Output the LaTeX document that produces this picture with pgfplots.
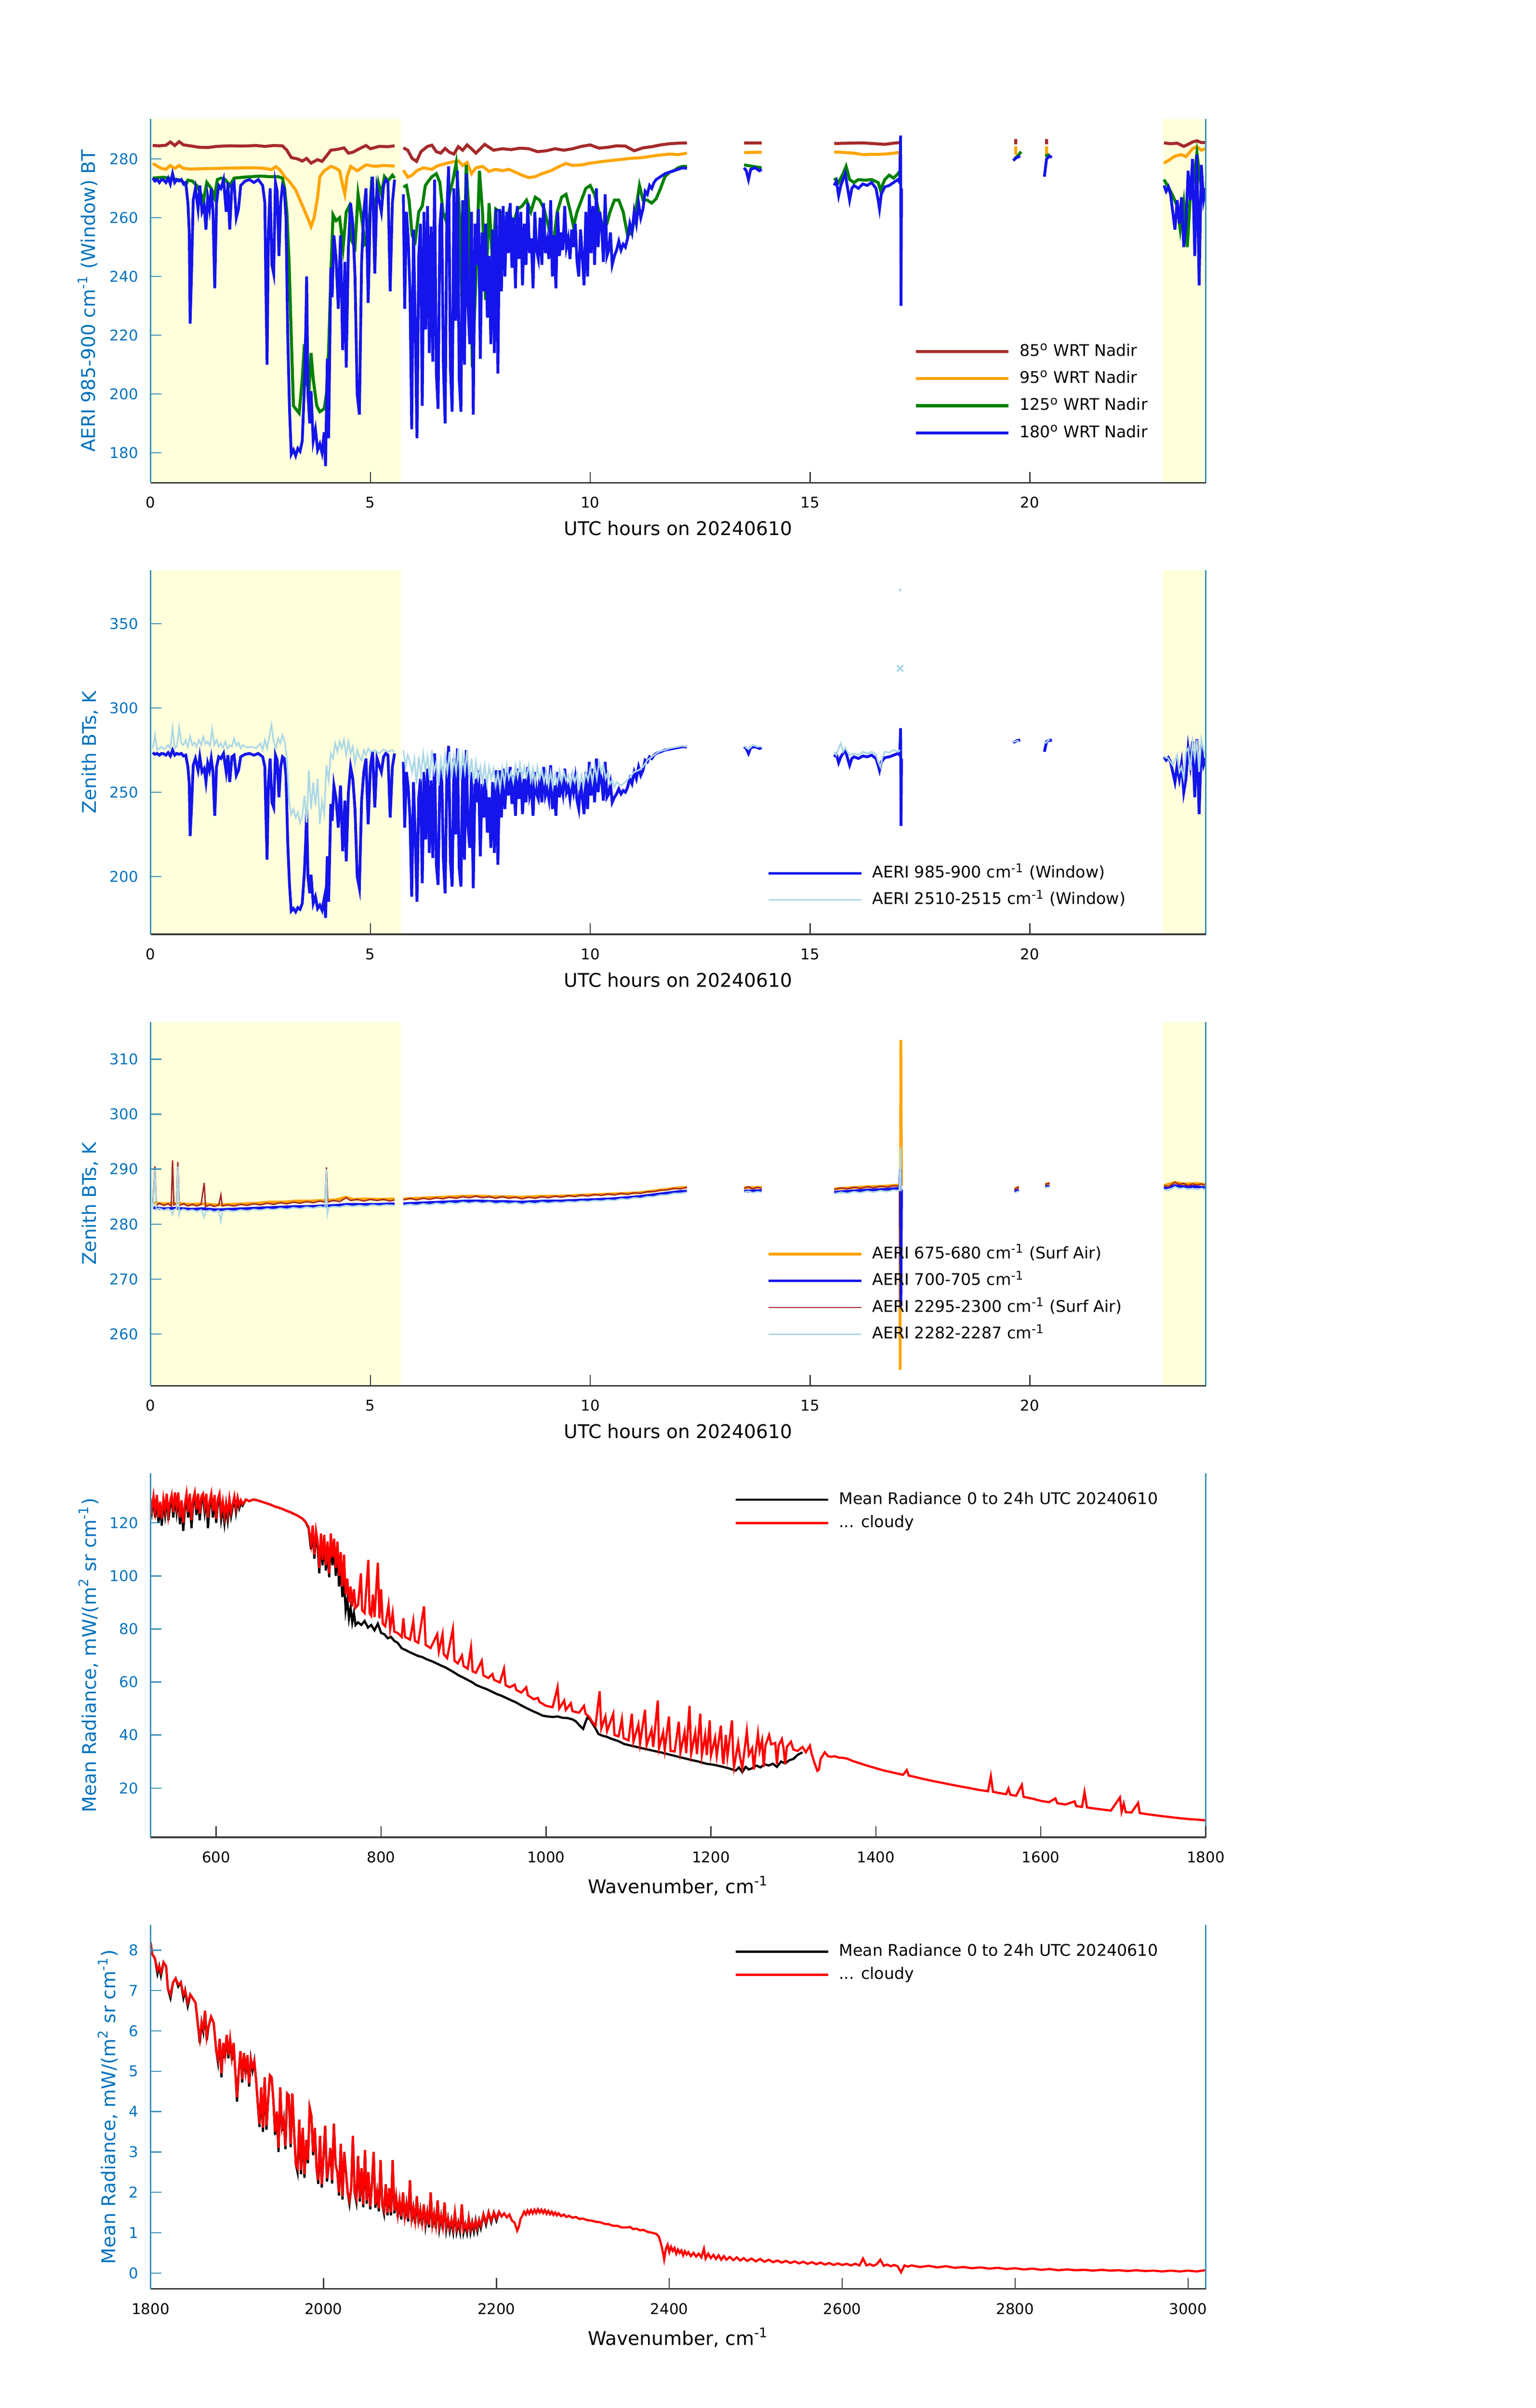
\documentclass[border=0pt]{standalone}
\usepackage{fontspec}
\setmainfont{DejaVu Sans}
\usepackage{pgfplots}
\usepackage{pgfplotstable}
\pgfplotsset{compat=1.18}
\definecolor{yellowbg}{RGB}{255,255,220}
\definecolor{tickblue}{RGB}{0,114,189}
\definecolor{spineblue}{RGB}{60,145,185}
\definecolor{spinegray}{RGB}{60,60,60}
\definecolor{cbrown}{RGB}{165,42,42}
\definecolor{corange}{RGB}{255,165,0}
\definecolor{cgreen}{RGB}{0,128,0}
\definecolor{cblue}{RGB}{20,20,235}
\definecolor{clight}{RGB}{173,216,230}
\newcommand{\ticfont}{\fontsize{7.4}{8.9}\selectfont}
\newcommand{\labfont}{\fontsize{9.4}{11.3}\selectfont}
\newcommand{\legfont}{\fontsize{8}{9.6}\selectfont}
\pgfplotsset{
 baseaxis/.style={
  scale only axis, width=525.6pt, height=181.4pt, anchor=south west,
  axis x line=bottom, axis y line=left, axis line style={-},
  x axis line style={draw=spinegray, line width=0.8pt},
  y axis line style={draw=spineblue, line width=0.6pt},
  tick align=inside, major tick length=5.4pt,
  xtick style={draw=spinegray, line width=0.6pt},
  ytick style={draw=spineblue, line width=0.6pt},
  /pgf/number format/assume math mode=true,
  /pgf/number format/1000 sep={},
  xticklabel style={font=\ticfont, text=black, anchor=base, yshift=-12.6pt, inner sep=0pt},
  yticklabel style={font=\ticfont, text=tickblue, anchor=east, xshift=-6pt, inner sep=0pt},
  xlabel style={font=\labfont, text=black, anchor=base},
  ylabel style={font=\labfont, text=tickblue, anchor=base},
  legend style={draw=none, fill=none, inner sep=0pt, outer sep=0pt, font=\legfont, anchor=north west,
    nodes={inner sep=0pt, text height=6pt, text depth=1.5pt}, column sep=4.8pt, row sep=6pt},
  legend cell align=left,
  legend image code/.code={\draw[##1] (0pt,0pt) -- (46.2pt,0pt);},
  unbounded coords=jump, clip mode=individual, axis on top,
 },
 timeaxis/.style={baseaxis, xmin=0, xmax=24, xtick={0,5,10,15,20},
  xlabel={UTC hours on 20240610},
  xlabel style={at={(axis description cs:0.5,-0.1444)}}},
}
\pgfplotstableread{
0.05 273.5
0.1 272.5
0.15 273.0
0.2 272.0
0.25 273.0
0.3 272.8
0.35 272.0
0.4 273.5
0.45 271.5
0.5 275.0
0.55 272.0
0.6 273.0
0.65 272.5
0.7 273.0
0.75 271.5
0.8 272.0
0.85 265.0
0.88 255.0
0.9 224.0
0.93 240.0
0.97 266.0
1.02 270.0
1.08 263.0
1.12 271.0
1.17 262.0
1.22 264.0
1.26 256.0
1.3 267.0
1.34 263.0
1.38 270.0
1.42 262.0
1.46 236.0
1.5 265.0
1.55 271.0
1.6 270.0
1.66 273.0
1.72 262.0
1.76 272.0
1.8 256.0
1.85 271.0
1.9 272.0
1.95 260.0
2.0 263.0
2.05 271.0
2.15 272.5
2.25 273.0
2.35 272.0
2.45 273.0
2.55 271.0
2.6 265.0
2.62 240.0
2.65 210.0
2.68 255.0
2.72 270.0
2.76 244.0
2.8 241.0
2.84 272.0
2.88 269.0
2.92 247.0
2.96 265.0
3.0 271.0
3.04 270.0
3.08 260.0
3.12 220.0
3.16 195.0
3.2 179.5
3.25 181.0
3.3 179.0
3.35 181.5
3.4 180.5
3.45 184.0
3.5 203.0
3.53 222.0
3.55 240.0
3.58 200.0
3.62 190.0
3.65 201.0
3.7 184.0
3.75 188.0
3.8 181.0
3.85 183.0
3.9 180.0
3.95 187.0
3.98 175.5
4.02 212.0
4.05 185.0
4.1 243.0
4.13 233.0
4.17 254.0
4.22 246.0
4.27 229.0
4.32 254.0
4.37 215.0
4.42 245.0
4.45 209.0
4.5 250.0
4.55 265.0
4.6 258.0
4.65 240.0
4.7 200.0
4.75 193.0
4.8 245.0
4.85 262.0
4.9 270.0
4.95 231.0
5.0 265.0
5.05 274.0
5.1 241.0
5.15 270.0
5.2 266.0
5.25 262.0
5.3 271.0
5.35 273.0
5.4 272.0
5.45 235.0
5.5 265.0
5.55 273.0
nan nan
5.75 268.0
5.78 229.0
5.82 262.0
5.86 253.0
5.9 235.0
5.94 188.0
5.98 256.0
6.02 224.0
6.06 185.0
6.1 247.0
6.14 258.0
6.18 196.0
6.22 262.0
6.26 222.0
6.3 264.0
6.34 214.0
6.38 257.0
6.42 211.0
6.46 273.0
6.5 207.0
6.54 195.0
6.58 257.0
6.62 265.0
6.66 210.0
6.7 190.0
6.74 262.0
6.78 277.5
6.82 209.0
6.86 194.0
6.9 270.0
6.94 225.0
6.98 276.0
7.02 205.0
7.06 194.0
7.1 266.0
7.14 210.0
7.18 275.0
7.22 230.0
7.26 217.0
7.3 262.0
7.34 193.0
7.38 258.0
7.42 244.0
7.46 263.0
7.5 212.0
7.54 255.0
7.58 235.0
7.62 258.0
7.66 226.0
7.7 247.0
7.74 217.0
7.78 256.0
7.82 214.0
7.86 263.0
7.9 207.0
7.94 263.0
7.98 235.0
8.02 264.0
8.06 240.0
8.1 262.0
8.14 248.0
8.18 265.0
8.22 243.0
8.26 260.0
8.3 236.0
8.34 264.0
8.38 246.0
8.42 262.0
8.46 237.0
8.5 258.0
8.54 244.0
8.58 265.0
8.62 248.0
8.66 253.0
8.7 236.0
8.74 262.0
8.78 249.0
8.82 246.0
8.86 260.0
8.9 244.0
8.94 265.0
8.98 248.0
9.02 252.0
9.06 246.0
9.1 266.0
9.14 240.0
9.18 254.0
9.22 236.0
9.26 262.0
9.3 247.0
9.34 255.0
9.38 249.0
9.42 264.0
9.46 250.0
9.5 253.0
9.54 246.0
9.58 256.0
9.62 250.0
9.66 258.0
9.7 245.0
9.74 240.0
9.78 256.0
9.82 247.0
9.86 237.0
9.9 262.0
9.94 240.0
9.98 268.0
10.02 248.0
10.06 264.0
10.1 244.0
10.14 270.0
10.18 250.0
10.22 262.0
10.26 257.0
10.3 245.0
10.34 268.0
10.38 247.0
10.42 249.0
10.46 255.0
10.5 244.0
10.55 247.0
10.6 249.0
10.65 252.0
10.7 249.0
10.75 251.0
10.8 250.0
10.85 253.0
10.9 258.0
10.95 255.0
11.0 262.0
11.05 258.0
11.1 265.0
11.15 260.0
11.2 263.0
11.25 269.0
11.3 268.0
11.35 271.0
11.4 270.0
11.45 272.0
11.5 273.0
11.6 274.0
11.7 275.0
11.8 275.5
11.9 276.0
12.0 276.5
12.1 277.0
12.2 276.8
nan nan
13.5 277.0
13.55 276.0
13.6 273.0
13.65 276.5
13.75 277.0
13.85 276.0
13.9 276.5
nan nan
15.55 271.0
15.6 272.5
15.65 267.5
15.7 271.0
15.75 273.0
15.8 275.0
15.85 270.5
15.9 266.0
15.95 270.0
16.0 271.0
16.1 270.0
16.2 271.5
16.3 271.0
16.4 272.0
16.5 270.0
16.55 266.0
16.58 263.0
16.62 268.0
16.7 270.5
16.8 271.0
16.9 272.0
17.0 273.0
17.04 272.0
17.06 288.0
17.07 230.0
17.08 270.0
nan nan
19.62 279.5
19.7 280.5
19.78 281.0
nan nan
20.33 274.0
20.38 280.0
20.45 281.0
20.5 280.5
nan nan
23.05 271.0
23.1 269.0
23.15 270.5
23.2 268.0
23.25 262.0
23.3 256.0
23.35 266.0
23.4 258.0
23.45 267.0
23.5 250.0
23.55 258.0
23.6 276.0
23.65 266.0
23.7 280.0
23.75 247.0
23.8 281.5
23.85 237.0
23.9 278.0
23.95 266.0
24.0 270.0
}\tblBlue
\begin{document}
\begin{tikzpicture}
\useasboundingbox (0,0) rectangle (765pt,1200pt);
% ---------------- Panel 1
\begin{axis}[timeaxis, at={(75pt,959.4pt)}, ymin=169.8, ymax=293.7, ytick={180,200,220,240,260,280},
  ylabel={AERI 985-900 cm\textsuperscript{-1} (Window) BT},
  ylabel style={at={(axis description cs:-0.0525,0.5)}},
  legend style={at={(axis description cs:0.7237,0.3812)}}]
\addplot[fill=yellowbg, draw=none, forget plot] coordinates {(0,169.8) (5.69,169.8) (5.69,293.7) (0,293.7)} -- cycle;
\addplot[fill=yellowbg, draw=none, forget plot] coordinates {(23.03,169.8) (24,169.8) (24,293.7) (23.03,293.7)} -- cycle;
\addplot[cbrown, line width=1.5pt] table {
0.05 284.6
0.2 284.5
0.35 284.7
0.45 285.8
0.55 284.6
0.65 285.9
0.75 284.8
0.9 284.5
1.1 284.0
1.3 283.9
1.5 284.3
1.8 284.5
2.1 284.4
2.4 284.6
2.6 284.3
2.8 284.6
3.0 284.5
3.1 283.0
3.2 280.5
3.35 280.0
3.45 279.3
3.55 280.2
3.65 278.6
3.8 279.8
3.9 279.2
4.0 281.0
4.1 283.0
4.25 283.3
4.4 283.8
4.5 282.0
4.6 282.3
4.75 283.5
4.9 284.6
5.0 283.5
5.2 284.3
5.4 284.2
5.55 284.5
nan nan
5.75 283.8
5.85 283.0
5.95 280.2
6.05 279.2
6.15 282.5
6.3 284.3
6.4 284.7
6.5 282.5
6.6 282.0
6.7 283.6
6.8 282.3
6.9 281.7
7.0 284.2
7.1 283.0
7.2 284.8
7.3 283.5
7.4 282.0
7.6 285.0
7.7 284.0
7.8 283.0
8.0 283.5
8.2 283.2
8.4 283.7
8.6 283.5
8.8 282.5
9.0 282.8
9.2 283.5
9.4 283.0
9.6 283.5
9.8 284.3
10.0 284.8
10.2 283.7
10.4 284.0
10.6 284.5
10.8 284.4
11.0 282.8
11.2 283.8
11.4 284.2
11.6 284.8
11.8 285.2
12.0 285.4
12.2 285.5
nan nan
13.5 285.5
13.9 285.5
nan nan
15.55 285.3
15.9 285.4
16.2 285.5
16.5 285.2
16.7 285.0
16.9 285.4
17.05 285.6
nan nan
19.68 285.0
19.68 286.8
nan nan
20.38 285.0
20.38 286.8
nan nan
23.05 285.5
23.2 285.2
23.35 285.4
23.5 284.3
23.6 285.0
23.7 285.8
23.8 286.2
23.9 285.6
24.0 285.6
};
\addlegendentry{85\textsuperscript{o} WRT Nadir}
\addplot[corange, line width=1.5pt] table {
0.05 278.5
0.15 277.6
0.25 276.8
0.35 276.5
0.45 277.8
0.55 276.8
0.65 277.8
0.75 276.8
0.9 276.6
1.2 276.7
1.5 276.8
1.8 276.9
2.1 277.0
2.4 277.0
2.6 276.8
2.75 276.4
2.85 277.4
2.95 276.2
3.05 274.0
3.15 272.5
3.3 269.5
3.4 266.0
3.5 262.5
3.6 259.0
3.65 257.0
3.72 260.0
3.8 267.0
3.85 274.0
3.95 276.0
4.1 277.5
4.2 277.0
4.3 276.0
4.37 271.0
4.42 268.0
4.47 274.0
4.55 277.5
4.7 276.0
4.8 277.0
4.9 278.0
5.1 277.5
5.3 277.8
5.55 277.6
nan nan
5.75 276.2
5.85 273.8
5.95 274.5
6.05 276.0
6.2 277.0
6.4 276.5
6.5 277.5
6.6 278.0
6.8 278.8
7.0 279.4
7.1 277.8
7.2 278.8
7.3 275.0
7.4 277.0
7.55 277.5
7.7 275.8
7.85 276.5
8.0 276.0
8.15 276.5
8.3 275.5
8.45 274.5
8.6 273.7
8.75 274.0
8.9 275.0
9.1 276.0
9.3 277.5
9.45 278.5
9.6 277.8
9.8 278.0
10.0 278.6
10.3 279.2
10.6 279.7
10.9 280.2
11.2 280.5
11.5 281.2
11.8 281.7
12.0 281.5
12.2 282.0
nan nan
13.5 282.2
13.9 282.3
nan nan
15.55 282.4
15.8 282.2
16.0 282.0
16.2 281.5
16.4 281.6
16.6 281.6
16.8 281.8
17.0 282.2
17.04 282.3
17.05 276.0
nan nan
19.68 281.5
19.68 284.3
nan nan
20.38 281.5
20.38 284.3
nan nan
23.05 278.6
23.15 279.5
23.3 281.0
23.45 281.5
23.55 280.8
23.7 283.5
23.8 284.2
23.9 283.0
24.0 283.5
};
\addlegendentry{95\textsuperscript{o} WRT Nadir}
\addplot[cgreen, line width=1.5pt] table {
0.05 273.5
0.3 273.8
0.5 273.2
0.7 272.8
0.8 271.0
0.85 272.8
0.95 272.5
1.05 271.0
1.15 268.0
1.2 265.5
1.28 272.0
1.38 270.0
1.45 267.0
1.52 273.0
1.6 273.5
1.7 273.0
1.8 271.0
1.9 273.5
2.1 273.8
2.3 274.0
2.5 274.2
2.7 274.0
2.9 274.0
3.0 273.5
3.05 270.0
3.1 262.0
3.15 245.0
3.2 220.0
3.25 196.0
3.3 195.0
3.38 193.5
3.45 205.0
3.5 217.0
3.55 205.0
3.6 200.0
3.65 214.0
3.7 205.0
3.78 196.0
3.85 194.0
3.95 195.0
4.0 200.0
4.05 215.0
4.1 240.0
4.15 261.0
4.22 259.0
4.3 260.0
4.38 250.0
4.45 262.0
4.52 264.0
4.58 252.0
4.65 250.0
4.72 268.0
4.8 260.0
4.88 251.0
4.95 252.0
5.02 270.0
5.1 263.0
5.18 272.0
5.25 268.0
5.32 274.0
5.4 272.5
5.5 274.5
5.55 273.5
nan nan
5.75 270.5
5.82 271.0
5.88 266.0
5.95 254.0
6.02 252.0
6.1 262.0
6.18 264.0
6.25 271.0
6.32 272.5
6.4 274.0
6.5 275.0
6.58 272.0
6.65 262.0
6.72 259.0
6.8 268.0
6.88 273.0
6.95 278.5
7.02 264.0
7.1 222.0
7.18 278.0
7.25 259.0
7.32 209.0
7.4 239.0
7.48 276.0
7.55 262.0
7.62 232.0
7.7 265.0
7.78 244.0
7.85 263.0
7.95 262.0
8.05 255.0
8.15 262.0
8.25 258.0
8.35 263.0
8.45 264.0
8.55 266.0
8.65 262.0
8.75 267.0
8.85 266.0
8.95 263.0
9.05 257.0
9.15 250.0
9.25 262.0
9.35 267.0
9.45 268.0
9.55 262.0
9.62 257.0
9.7 262.0
9.8 266.0
9.9 270.0
10.0 271.0
10.1 268.0
10.2 262.0
10.3 256.0
10.38 258.0
10.45 262.0
10.55 266.0
10.65 266.0
10.75 262.0
10.85 254.0
10.95 255.0
11.05 264.0
11.12 271.0
11.2 266.0
11.3 266.0
11.4 265.0
11.5 266.5
11.6 270.0
11.7 274.0
11.8 275.5
11.9 276.0
12.0 277.0
12.1 277.5
12.2 277.5
nan nan
13.5 278.0
13.7 277.5
13.9 277.0
nan nan
15.55 273.5
15.65 272.0
15.75 275.0
15.82 277.5
15.9 273.0
16.0 272.0
16.1 273.0
16.25 272.8
16.4 273.0
16.55 272.0
16.6 269.5
16.7 273.0
16.8 274.5
16.9 273.5
17.0 275.0
17.05 276.0
nan nan
19.65 280.0
19.75 281.5
19.8 282.5
nan nan
20.35 281.0
20.45 281.5
nan nan
23.05 273.0
23.15 270.5
23.25 267.5
23.35 264.0
23.42 256.0
23.5 265.0
23.58 250.0
23.65 268.0
23.72 272.0
23.8 282.0
23.85 276.0
23.92 268.0
24.0 270.0
};
\addlegendentry{125\textsuperscript{o} WRT Nadir}
\addplot[cblue, line width=1.4pt] table {\tblBlue};
\addlegendentry{180\textsuperscript{o} WRT Nadir}
\draw[spineblue, line width=0.6pt] (rel axis cs:1,0) -- (rel axis cs:1,1);
\end{axis}
% ---------------- Panel 2
\begin{axis}[timeaxis, at={(75pt,734.4pt)}, ymin=165.7, ymax=381.7, ytick={200,250,300,350},
  ylabel={Zenith BTs, K},
  ylabel style={at={(axis description cs:-0.0518,0.5)}},
  legend style={at={(axis description cs:0.5843,0.1881)}, row sep=5.7pt}]
\addplot[fill=yellowbg, draw=none, forget plot] coordinates {(0,165.7) (5.69,165.7) (5.69,381.7) (0,381.7)} -- cycle;
\addplot[fill=yellowbg, draw=none, forget plot] coordinates {(23.03,165.7) (24,165.7) (24,381.7) (23.03,381.7)} -- cycle;
\addplot[cblue, line width=1.4pt] table {\tblBlue};
\addlegendentry{AERI 985-900 cm\textsuperscript{-1} (Window)}
\addplot[clight, line width=0.8pt] table {
0.05 276
0.1 284
0.15 275
0.2 276
0.25 277
0.3 275.5
0.35 276.5
0.4 278
0.45 276.0
0.5 288.0
0.55 276.0
0.6 277.5
0.65 288.5
0.7 279.0
0.75 278.0
0.8 281.0
0.85 277.0
0.9 283.0
0.95 278.0
1.0 279.5
1.05 277.0
1.1 281.0
1.15 278.0
1.2 283.0
1.25 278.5
1.3 280.0
1.35 277.5
1.4 287.5
1.45 278.0
1.5 281.0
1.55 277.0
1.6 279.0
1.65 276.5
1.7 280.0
1.75 276.0
1.8 278.0
1.85 277.0
1.9 282.0
1.95 277.5
2.0 279.5
2.05 276.0
2.1 278.0
2.2 276.5
2.3 277.0
2.4 276.0
2.5 279.0
2.55 275.0
2.6 281.0
2.65 276.0
2.7 283.0
2.75 290.0
2.8 280.0
2.85 276.0
2.9 282.0
2.95 279.0
3.0 284.0
3.05 280.0
3.1 270.0
3.15 245.0
3.2 237.0
3.25 240.0
3.3 235.0
3.35 238.0
3.4 232.0
3.45 236.0
3.5 248.0
3.55 232.0
3.6 263.0
3.65 240.0
3.7 256.0
3.75 242.0
3.8 258.0
3.85 231.0
3.9 245.0
3.95 237.0
4.0 266.0
4.05 257.0
4.1 273.0
4.15 270.0
4.2 279.0
4.25 274.0
4.3 280.0
4.35 276.0
4.4 281.0
4.45 272.0
4.5 280.0
4.55 273.0
4.6 277.0
4.65 267.0
4.7 275.0
4.75 271.0
4.8 269.0
4.85 275.0
4.9 272.0
4.95 276.0
5.0 274.0
5.1 275.0
5.2 273.0
5.3 275.5
5.4 274.0
5.5 275.0
5.55 274.0
nan nan
5.75 275.0
5.8 265.0
5.85 272.0
5.9 268.0
5.95 262.0
6.0 270.0
6.05 255.0
6.1 271.0
6.15 260.0
6.2 273.0
6.25 263.0
6.3 271.0
6.35 258.0
6.4 275.0
6.45 262.0
6.5 268.0
6.55 254.0
6.6 269.0
6.65 260.0
6.7 272.0
6.75 262.0
6.8 274.0
6.85 258.0
6.9 271.0
6.95 262.0
7.0 276.0
7.05 257.0
7.1 272.0
7.15 262.0
7.2 275.0
7.25 258.0
7.3 270.0
7.35 255.0
7.4 268.0
7.45 258.0
7.5 265.0
7.55 256.0
7.6 266.0
7.65 255.0
7.7 265.0
7.75 258.0
7.8 264.0
7.85 254.0
7.9 262.0
7.95 252.0
8.0 264.0
8.05 255.0
8.1 266.0
8.15 258.0
8.2 262.0
8.25 256.0
8.3 266.0
8.35 259.0
8.4 267.0
8.45 258.0
8.5 265.0
8.55 259.0
8.6 266.0
8.65 257.0
8.7 264.0
8.75 255.0
8.8 265.0
8.85 258.0
8.9 263.0
8.95 256.0
9.0 263.0
9.05 254.0
9.1 262.0
9.15 253.0
9.2 261.0
9.25 255.0
9.3 263.0
9.35 256.0
9.4 262.0
9.45 257.0
9.5 260.0
9.55 254.0
9.6 262.0
9.65 256.0
9.7 261.0
9.75 253.0
9.8 260.0
9.85 254.0
9.9 262.0
9.95 257.0
10.0 264.0
10.05 256.0
10.1 266.0
10.15 258.0
10.2 268.0
10.25 262.0
10.3 266.0
10.35 258.0
10.4 262.0
10.45 255.0
10.5 257.0
10.55 253.0
10.6 256.0
10.7 254.0
10.8 256.0
10.9 259.0
11.0 262.0
11.1 263.0
11.2 265.0
11.3 269.0
11.4 271.0
11.5 273.0
11.6 274.5
11.7 275.0
11.8 276.0
11.9 276.5
12.0 277.0
12.1 277.5
12.2 277.0
nan nan
13.5 277.5
13.6 275.5
13.7 278.0
13.8 277.0
13.9 277.0
nan nan
15.55 274.0
15.6 272.0
15.65 276.0
15.7 279.0
15.75 274.0
15.8 276.5
15.85 274.0
15.9 272.0
16.0 273.0
16.1 272.0
16.2 274.0
16.3 273.0
16.4 274.0
16.5 272.5
16.55 268.0
16.6 265.0
16.65 271.0
16.7 274.0
16.8 273.5
16.9 275.0
17.0 274.0
17.05 275.0
nan nan
19.62 280.0
19.75 280.5
nan nan
20.35 279.0
20.45 281.5
nan nan
23.05 271.0
23.15 270.0
23.25 266.0
23.35 272.0
23.4 262.0
23.45 265.0
23.5 258.0
23.55 274.0
23.6 276.0
23.65 263.0
23.7 280.0
23.75 270.0
23.8 281.0
23.85 262.0
23.9 281.5
23.95 275.0
24.0 272.0
};
\addlegendentry{AERI 2510-2515 cm\textsuperscript{-1} (Window)}
\addplot[clight, only marks, mark=x, mark size=2.2pt, line width=0.9pt, forget plot] coordinates {(17.05,323.5)};
\addplot[clight, only marks, mark=*, mark size=0.5pt, forget plot] coordinates {(17.05,370)};
\draw[spineblue, line width=0.6pt] (rel axis cs:1,0) -- (rel axis cs:1,1);
\end{axis}
% ---------------- Panel 3
\begin{axis}[timeaxis, at={(75pt,509.4pt)}, ymin=250.6, ymax=316.8, ytick={260,270,280,290,300,310},
  ylabel={Zenith BTs, K},
  ylabel style={at={(axis description cs:-0.0518,0.5)}},
  legend style={at={(axis description cs:0.5843,0.3823)}, row sep=5.8pt}]
\addplot[fill=yellowbg, draw=none, forget plot] coordinates {(0,250.6) (5.69,250.6) (5.69,316.8) (0,316.8)} -- cycle;
\addplot[fill=yellowbg, draw=none, forget plot] coordinates {(23.03,250.6) (24,250.6) (24,316.8) (23.03,316.8)} -- cycle;
\addplot[corange, line width=1.4pt] table {
0.05 283.9
0.3 283.7
0.6 283.8
0.9 283.6
1.2 283.7
1.5 283.5
1.8 283.6
2.1 283.7
2.4 283.8
2.7 284.0
3.0 284.0
3.3 284.2
3.6 284.2
3.9 284.3
4.2 284.4
4.45 284.9
4.6 284.5
4.9 284.6
5.2 284.5
5.55 284.6
nan nan
5.75 284.6
6.0 284.7
6.3 284.8
6.6 284.9
6.9 285.0
7.2 285.1
7.5 285.1
7.8 285.0
8.1 285.0
8.4 284.9
8.7 285.0
9.0 285.1
9.3 285.1
9.6 285.2
9.9 285.3
10.2 285.4
10.5 285.5
10.8 285.6
11.1 285.7
11.4 286.0
11.7 286.3
12.0 286.6
12.2 286.7
nan nan
13.5 286.6
13.9 286.7
nan nan
15.55 286.4
15.9 286.6
16.3 286.8
16.7 286.9
17.0 287.1
17.04 287.0
17.05 253.5
17.065 313.5
17.08 287.0
nan nan
19.65 286.4
19.75 286.7
nan nan
20.35 287.3
20.45 287.4
nan nan
23.05 287.0
23.3 287.6
23.5 287.3
23.8 287.4
24.0 287.2
};
\addlegendentry{AERI 675-680 cm\textsuperscript{-1} (Surf Air)}
\addplot[cblue, line width=1.4pt] table {
0.05 283.0
0.3 282.8
0.6 282.9
0.9 282.7
1.2 282.8
1.5 282.6
1.8 282.7
2.1 282.8
2.4 282.9
2.7 283.0
3.0 283.1
3.3 283.2
3.6 283.2
3.9 283.3
4.2 283.4
4.5 283.6
4.9 283.6
5.2 283.6
5.55 283.7
nan nan
5.75 283.7
6.0 283.8
6.3 283.9
6.6 284.0
6.9 284.1
7.2 284.2
7.5 284.2
7.8 284.1
8.1 284.1
8.4 284.0
8.7 284.1
9.0 284.2
9.3 284.2
9.6 284.3
9.9 284.4
10.2 284.5
10.5 284.6
10.8 284.8
11.1 285.0
11.4 285.3
11.7 285.6
12.0 285.9
12.2 286.0
nan nan
13.5 286.0
13.9 286.1
nan nan
15.55 285.8
15.9 286.0
16.3 286.2
16.7 286.3
17.0 286.5
17.04 286.4
17.055 290.0
17.065 265.0
17.08 286.3
nan nan
19.65 285.9
19.75 286.2
nan nan
20.35 286.8
20.45 286.9
nan nan
23.05 286.5
23.3 287.0
23.5 286.8
23.8 286.8
24.0 286.6
};
\addlegendentry{AERI 700-705 cm\textsuperscript{-1}}
\addplot[cbrown, line width=0.7pt] table {
0.05 283.6
0.1 290.5
0.13 283.4
0.2 283.8
0.3 283.4
0.4 283.7
0.47 283.3
0.5 291.6
0.53 283.5
0.59 283.7
0.62 291.3
0.65 283.4
0.75 283.7
0.85 283.3
0.95 283.6
1.05 283.3
1.15 283.6
1.22 287.5
1.25 283.2
1.35 283.5
1.45 283.2
1.55 283.5
1.6 285.3
1.63 283.3
1.75 283.5
1.9 283.3
2.05 283.6
2.2 283.4
2.35 283.7
2.5 283.5
2.65 283.8
2.8 283.6
2.95 283.9
3.1 283.7
3.25 284.0
3.4 283.8
3.55 284.1
3.7 283.9
3.85 284.2
3.97 284.0
4.0 290.3
4.03 284.0
4.15 284.3
4.3 284.1
4.45 284.8
4.55 284.3
4.7 284.5
4.85 284.2
5.0 284.5
5.15 284.3
5.3 284.5
5.45 284.2
5.55 284.4
nan nan
5.75 284.4
5.9 284.7
6.05 284.4
6.2 284.7
6.35 284.5
6.5 284.8
6.65 284.6
6.8 284.9
6.95 284.7
7.1 285.0
7.25 284.8
7.4 285.1
7.55 284.8
7.7 285.0
7.85 284.7
8.0 285.0
8.15 284.7
8.3 284.9
8.45 284.6
8.6 284.9
8.75 284.7
8.9 285.0
9.05 284.8
9.2 285.1
9.35 284.9
9.5 285.2
9.65 285.0
9.8 285.3
9.95 285.1
10.1 285.4
10.25 285.2
10.4 285.5
10.55 285.3
10.7 285.6
10.85 285.4
11.0 285.7
11.15 285.6
11.3 285.9
11.45 285.9
11.6 286.2
11.75 286.2
11.9 286.5
12.05 286.4
12.2 286.7
nan nan
13.5 286.5
13.6 286.8
13.7 286.4
13.8 286.7
13.9 286.5
nan nan
15.55 286.3
15.7 286.6
15.85 286.4
16.0 286.7
16.15 286.5
16.3 286.8
16.45 286.6
16.6 286.9
16.75 286.7
16.9 287.0
17.03 286.9
nan nan
19.65 286.3
19.75 286.8
nan nan
20.35 287.2
20.45 287.5
nan nan
23.05 287.0
23.15 286.8
23.3 287.6
23.4 287.2
23.5 287.4
23.6 287.0
23.7 287.3
23.8 287.1
23.9 287.3
24.0 287.0
};
\addlegendentry{AERI 2295-2300 cm\textsuperscript{-1} (Surf Air)}
\addplot[clight, line width=0.7pt] table {
0.05 282.8
0.1 290.0
0.13 282.6
0.2 282.9
0.3 282.5
0.4 282.8
0.47 282.4
0.5 281.7
0.53 282.6
0.59 282.8
0.62 290.5
0.65 281.7
0.68 282.5
0.75 282.7
0.85 282.4
0.95 282.6
1.05 282.3
1.15 282.6
1.22 281.2
1.25 282.3
1.35 282.5
1.45 282.2
1.55 282.5
1.6 280.5
1.63 282.3
1.75 282.5
1.9 282.3
2.05 282.6
2.2 282.4
2.35 282.7
2.5 282.5
2.65 282.8
2.8 282.6
2.95 282.9
3.1 282.7
3.25 283.0
3.4 282.8
3.55 283.1
3.7 282.9
3.85 283.2
3.97 283.0
4.0 290.0
4.02 281.8
4.05 283.0
4.15 283.2
4.3 283.1
4.45 283.4
4.6 283.2
4.75 283.4
4.9 283.2
5.05 283.5
5.2 283.3
5.35 283.5
5.55 283.4
nan nan
5.75 283.4
5.9 283.6
6.05 283.4
6.2 283.7
6.35 283.5
6.5 283.8
6.65 283.6
6.8 283.9
6.95 283.7
7.1 284.0
7.25 283.8
7.4 284.0
7.55 283.8
7.7 284.0
7.85 283.7
8.0 283.9
8.15 283.7
8.3 283.9
8.45 283.6
8.6 283.9
8.75 283.7
8.9 284.0
9.05 283.8
9.2 284.0
9.35 283.9
9.5 284.1
9.65 284.0
9.8 284.2
9.95 284.1
10.1 284.3
10.25 284.2
10.4 284.4
10.55 284.3
10.7 284.6
10.85 284.5
11.0 284.8
11.15 284.7
11.3 285.0
11.45 285.0
11.6 285.3
11.75 285.3
11.9 285.6
12.05 285.6
12.2 285.8
nan nan
13.5 285.8
13.6 286.0
13.7 285.7
13.8 285.9
13.9 285.8
nan nan
15.55 285.5
15.7 285.8
15.85 285.6
16.0 285.9
16.15 285.7
16.3 286.0
16.45 285.8
16.6 286.1
16.75 285.9
16.9 286.2
17.03 286.1
17.06 294.0
17.07 286.0
nan nan
19.65 285.7
19.75 286.0
nan nan
20.35 286.6
20.45 286.8
nan nan
23.05 286.3
23.15 286.1
23.3 286.8
23.4 286.4
23.5 286.6
23.6 286.3
23.7 286.5
23.8 286.3
23.9 286.5
24.0 286.3
};
\addlegendentry{AERI 2282-2287 cm\textsuperscript{-1}}
\draw[spineblue, line width=0.6pt] (rel axis cs:1,0) -- (rel axis cs:1,1);
\end{axis}
% ---------------- Panel 4
\begin{axis}[baseaxis, at={(75pt,284.4pt)}, xmin=520.4, xmax=1800, ymin=1.44, ymax=138.7,
  xtick={600,800,1000,1200,1400,1600,1800}, ytick={20,40,60,80,100,120},
  xlabel={Wavenumber, cm\textsuperscript{-1}},
  xlabel style={at={(axis description cs:0.5,-0.1544)}},
  ylabel={Mean Radiance, mW/(m\textsuperscript{2} sr cm\textsuperscript{-1})},
  ylabel style={at={(axis description cs:-0.0518,0.5)}},
  legend style={at={(axis description cs:0.5533,0.948)}, row sep=4.1pt}]
\addplot[black, line width=1.1pt] table {
520 128
522 124
524 129
526 122
528 129
530 120
532 127
534 119
536 128
538 123
540 129.5
542 121
544 126
546 129
548 122
550 130
552 124
554 130
556 119.5
558 127
560 117
562 125
564 129.5
566 122
568 129.5
570 118
572 127
574 130
576 123
578 129.5
580 121
582 128
584 129.5
586 124
588 129.5
590 118
592 126.5
594 129.5
596 122
598 129
600 120
602 127.5
604 129.5
606 121.5
608 126
610 120
612 126
614 121
616 127.5
618 122.5
620 126
622 129
624 124
626 128.5
628 125.5
630 127.5
632 126.5
636 128.8
640 128.2
645 128.8
650 128.5
655 128
660 127.5
665 127
670 126.3
675 125.8
680 125.3
685 124.6
690 124
695 123.3
700 122.5
705 121.5
708 120.5
712 118
715 110
717 118
719 106.5
721 115
723 111
725 101
727 114
729 104
731 113
733 102
735 110
737 99.5
739 113
741 104
743 111
745 100
747 110
749 96
751 104
753 92
755 99
757 87
759 91
761 84
763 88
765 82.5
767 86
769 81.5
772 82.5
776 81.5
780 83
784 80.5
788 81.5
792 79.5
796 82
800 78.5
804 78
808 76.5
812 77
816 75.5
820 74.8
825 72.7
830 72
835 71.2
840 70.5
845 69.8
850 69.4
855 68.6
861 67.9
866 67.2
872 66.3
878 65.5
883 64.6
888 63.7
894 62.5
900 61.6
906 60.6
911 59.8
915 58.9
922 58
928 57.3
934 56.4
940 55.5
946 54.8
951 54.1
957 53.2
963 52.4
968 51.5
973 50.7
978 49.9
984 49
990 48.2
996 47.3
1002 47
1008 46.8
1014 47
1020 46.5
1026 46.4
1032 45.9
1036 45.2
1041 43.5
1045 42.3
1048 45
1050 46.5
1053 46
1056 44.5
1060 42.5
1063.5 40.4
1068 39.8
1074 39.3
1080 38.5
1087 37.8
1095 36.6
1103 36
1110 35.5
1117 35
1124 34.5
1131 34
1140 33.4
1149 32.7
1158 32
1167 31.3
1176 30.6
1185 30
1194 29.2
1203 28.8
1212 28.2
1221 27.5
1230 26.6
1234 27.8
1238 26
1242 28
1246 27
1250 27.5
1255 28.5
1260 27.8
1265 29
1270 28.5
1275 29.2
1280 28
1285 30
1290 29.3
1295 30.5
1300 31
1305 32.5
1311 33.5
};
\addlegendentry{Mean Radiance 0 to 24h UTC 20240610}
\addplot[red, line width=1.1pt] table {
520 129.5
522 125
524 130
526 124.5
528 130.5
530 122
532 128
534 121.5
536 129
538 125
540 131
542 123
544 128
546 130.5
548 124
550 131.5
552 126
554 131.5
556 122
558 128.5
560 120
562 127
564 131
566 124
568 131
570 121
572 129
574 131.5
576 125
578 131
580 123.5
582 130
584 131
586 126
588 131
590 122
592 128
594 131
596 124.5
598 130.5
600 121.5
602 129
604 131
606 124
608 128
610 122.5
612 127.5
614 123
616 129
618 124
620 127
622 130
624 125.5
626 129.5
628 126.5
630 128.5
632 127
636 128.8
640 128.2
645 128.8
650 128.5
655 128
660 127.5
665 127
670 126.3
675 125.8
680 125.3
685 124.6
690 124
695 123.3
700 122.5
705 121.5
708 120.5
712 118.5
715 112
717 119
719 108
721 117
723 113
725 103
727 116
729 106
731 115.5
733 104
735 113
737 101
739 116
741 107
743 114
745 103
747 113
749 100
751 109
753 96
755 108
757 93
759 99
761 90
763 96
765 88.5
767 95
769 88
772 89
775.5 101
777 87
780 86
784.5 106
786 86
788 85
790 93
792 84.5
796 105
798 84
800 95
802 82
805 81
809 89
811 80
814 86
816 79
820 78.5
825 77
827 84
829 77
835 76
839 83
841 75.5
845 74.8
852 88.5
854 74
860 72.8
868 78
870 71.5
874.5 78
876 70.5
880 69
887 80
889 68
893 67
898 70
900 66
905 65
909 73
911 64
915 63.5
922 68
924 62.5
930 61.5
935 63
937 60.8
944 59.8
949 65
951 58.8
956 58
962 59
964 57
970 56
976 58
978 55
985 53.5
990 54
992 52.5
1000 51
1008 50.5
1014 58
1016 50
1022 53
1024 49.5
1030 52
1032 49
1040 48.4
1046 51
1048 48
1052 47
1056 45
1060 43.5
1065 56.5
1067 42.5
1072 47
1074 41.5
1081.5 48
1083 40
1088 39.5
1092 46
1094 38.8
1100 38
1104 48
1106 37.5
1112 44
1114 36.8
1120 49.5
1122 36.2
1128 42
1130 35.5
1135.5 53
1137 35
1142 41
1144 34.5
1149 47
1151 34
1156 33.8
1161 45
1163 33.5
1168 41
1170 33.2
1174 51
1176 33
1181 41
1183 32.8
1187 48
1189 32.5
1193 40
1195 32.4
1198.5 45.5
1200 32.3
1205 39
1207 32.2
1212 43.5
1214 32
1215 29
1218 40
1220 32
1225.5 45.5
1227 31.8
1228 28
1233 37
1235 32
1238 27.5
1243.5 41.5
1246 32.5
1250 35
1252 27
1254 33
1257 40.5
1259 34
1262 38
1264 28
1266 36
1270.5 40
1273 36.5
1278 37
1280 29
1282 36
1286 38.5
1288 35
1290 29
1292 35.5
1297 37.5
1300 34.5
1305 34
1311 35.5
1315 33.5
1320 36
1322 33
1325 30
1329 26.5
1331 27
1333 31
1338 33.5
1342 32
1346 31.8
1350 32
1355 31.5
1360 31.4
1365 31.1
1372 30.2
1380 29.4
1390 28.4
1401 27.4
1410 26.6
1420 25.9
1433 25.0
1437.5 26.8
1440 24.7
1446 24.3
1458 23.4
1470 22.6
1480 22.0
1491 21.3
1503 20.6
1515 19.9
1525 19.3
1536 18.8
1539.4 24.5
1542 18.6
1550 18.1
1558 17.7
1560.8 19.8
1563 17.5
1570 17.1
1577 21.2
1579 16.7
1590 16.0
1601 15.1
1610 14.7
1617.7 16.1
1620 14.3
1630 13.8
1641 15.0
1643 13.2
1650 12.9
1653 18.5
1656 12.7
1665 12.3
1675 11.9
1685 11.5
1696 16.5
1698 11.1
1700.6 14.1
1703 10.9
1710 10.8
1718 14.4
1720 10.6
1730 10.1
1740 9.7
1750 9.3
1761 8.9
1770 8.6
1780 8.3
1790 8.1
1800 7.8
};
\addlegendentry{... cloudy}
\draw[spineblue, line width=0.6pt] (rel axis cs:1,0) -- (rel axis cs:1,1);
\end{axis}
% ---------------- Panel 5
\begin{axis}[baseaxis, at={(75pt,59.4pt)}, xmin=1800, xmax=3020.4, ymin=-0.39, ymax=8.63,
  xtick={1800,2000,2200,2400,2600,2800,3000}, ytick={0,1,2,3,4,5,6,7,8},
  xlabel={Wavenumber, cm\textsuperscript{-1}},
  xlabel style={at={(axis description cs:0.5,-0.1544)}},
  ylabel={Mean Radiance, mW/(m\textsuperscript{2} sr cm\textsuperscript{-1})},
  ylabel style={at={(axis description cs:-0.0335,0.5)}},
  legend style={at={(axis description cs:0.5533,0.9469)}, row sep=4pt}]
\addplot[black, line width=1.1pt] table {
1800 8.15
1802 7.9
1805 7.8
1808 7.42
1810 7.6
1812 7.37
1815 7.7
1818 7.6
1820 7.05
1823 6.82
1826 7.2
1829 7.3
1832 7.1
1835 7.2
1838 6.82
1840 7.0
1843 6.62
1846 6.9
1849 6.8
1852 6.7
1855 6.1
1857 5.7
1859 6.2
1861 5.98
1863 6.5
1865 5.77
1867 6.1
1870 6.35
1873 6.2
1876 5.5
1878 5.22
1880 5.8
1882 4.85
1884 5.7
1886 5.32
1888 5.9
1890 5.32
1892 5.8
1894 5.27
1896 5.7
1898 5.0
1900 4.25
1902 5.0
1904 5.5
1906 4.72
1908 5.45
1910 4.92
1912 5.4
1914 4.62
1916 5.3
1918 5.02
1920 5.25
1922 4.8
1924 4.2
1926 3.62
1928 4.6
1930 3.5
1932 4.85
1934 3.55
1936 4.3
1938 4.9
1940 4.85
1942 4.3
1944 3.42
1946 4.0
1948 3.0
1950 4.6
1952 3.52
1954 3.8
1956 3.07
1958 4.45
1960 4.4
1962 3.12
1964 4.45
1966 3.5
1968 2.7
1970 2.5
1972 3.8
1974 2.45
1976 3.6
1978 2.36
1980 3.3
1982 2.72
1984 4.1
1986 3.9
1988 2.92
1990 3.6
1992 2.6
1994 2.21
1996 3.4
1998 2.12
2000 2.9
2002 3.65
2004 2.27
2006 2.65
2008 3.1
2010 2.22
2012 3.7
2014 2.7
2016 2.5
2018 1.92
2020 3.2
2022 1.82
2024 3.0
2026 2.5
2028 2.0
2030 1.72
2032 2.1
2034 3.4
2036 2.0
2038 1.77
2040 2.9
2042 1.77
2044 2.6
2046 1.63
2048 3.05
2050 1.72
2052 2.5
2054 1.58
2056 2.2
2058 3.0
2060 1.62
2062 2.0
2064 1.53
2066 2.8
2068 1.7
2070 1.48
2072 2.2
2074 1.43
2076 2.1
2078 1.43
2080 2.8
2082 1.48
2084 1.9
2086 1.38
2088 1.8
2090 1.33
2092 2.0
2094 1.33
2096 1.7
2098 1.28
2100 2.3
2102 1.28
2104 1.6
2106 1.23
2108 1.9
2110 1.23
2112 1.55
2114 1.18
2116 1.7
2118 1.18
2120 1.5
2122 1.13
2124 2.0
2126 1.13
2128 1.45
2130 1.11
2132 1.8
2134 1.11
2136 1.4
2138 1.08
2140 1.75
2142 1.08
2144 1.35
2146 1.05
2148 1.3
2150 1.03
2152 1.5
2154 1.03
2156 1.25
2158 1.03
2160 1.7
2162 1.01
2164 1.2
2166 1.0
2168 1.35
2170 1.01
2172 1.25
2174 1.03
2176 1.3
2178 1.05
2180 1.3
2182 1.12
2185 1.45
2188 1.2
2191 1.5
2194 1.26
2197 1.5
2200 1.3
2203 1.52
};
\addlegendentry{Mean Radiance 0 to 24h UTC 20240610}
\addplot[red, line width=1.1pt] table {
1800 8.2
1802 7.9
1805 7.8
1808 7.5
1810 7.6
1812 7.45
1815 7.7
1818 7.6
1820 7.05
1823 6.9
1826 7.2
1829 7.3
1832 7.15
1835 7.2
1838 6.9
1840 7.0
1843 6.7
1846 6.9
1849 6.8
1852 6.7
1855 6.1
1857 5.8
1859 6.2
1861 6.05
1863 6.5
1865 5.85
1867 6.1
1870 6.35
1873 6.2
1876 5.5
1878 5.3
1880 5.8
1882 4.95
1884 5.7
1886 5.4
1888 5.9
1890 5.4
1892 5.8
1894 5.35
1896 5.7
1898 5.0
1900 4.35
1902 5.0
1904 5.5
1906 4.8
1908 5.45
1910 5.0
1912 5.4
1914 4.7
1916 5.3
1918 5.1
1920 5.25
1922 4.8
1924 4.2
1926 3.7
1928 4.6
1930 3.6
1932 4.85
1934 3.65
1936 4.3
1938 4.9
1940 4.85
1942 4.3
1944 3.5
1946 4.0
1948 3.1
1950 4.6
1952 3.6
1954 3.8
1956 3.15
1958 4.45
1960 4.4
1962 3.2
1964 4.45
1966 3.5
1968 2.7
1970 2.6
1972 3.8
1974 2.55
1976 3.6
1978 2.45
1980 3.3
1982 2.8
1984 4.1
1986 3.9
1988 3.0
1990 3.6
1992 2.6
1994 2.3
1996 3.4
1998 2.2
2000 2.9
2002 3.65
2004 2.35
2006 2.65
2008 3.1
2010 2.3
2012 3.7
2014 2.7
2016 2.5
2018 2.0
2020 3.2
2022 1.9
2024 3.0
2026 2.5
2028 2.0
2030 1.8
2032 2.1
2034 3.4
2036 2.0
2038 1.85
2040 2.9
2042 1.85
2044 2.6
2046 1.7
2048 3.05
2050 1.8
2052 2.5
2054 1.65
2056 2.2
2058 3.0
2060 1.7
2062 2.0
2064 1.6
2066 2.8
2068 1.7
2070 1.55
2072 2.2
2074 1.5
2076 2.1
2078 1.5
2080 2.8
2082 1.55
2084 1.9
2086 1.45
2088 1.8
2090 1.4
2092 2.0
2094 1.4
2096 1.7
2098 1.35
2100 2.3
2102 1.35
2104 1.6
2106 1.3
2108 1.9
2110 1.3
2112 1.55
2114 1.25
2116 1.7
2118 1.25
2120 1.5
2122 1.2
2124 2.0
2126 1.2
2128 1.45
2130 1.18
2132 1.8
2134 1.18
2136 1.4
2138 1.15
2140 1.75
2142 1.15
2144 1.35
2146 1.12
2148 1.3
2150 1.1
2152 1.5
2154 1.1
2156 1.25
2158 1.1
2160 1.7
2162 1.08
2164 1.2
2166 1.07
2168 1.35
2170 1.08
2172 1.25
2174 1.1
2176 1.3
2178 1.12
2180 1.3
2182 1.18
2185 1.45
2188 1.25
2191 1.5
2194 1.3
2197 1.5
2200 1.35
2203 1.52
2206 1.4
2209 1.48
2212 1.38
2215 1.45
2218 1.3
2221 1.25
2224 1.05
2226 1.15
2228 1.35
2230 1.42
2232 1.52
2234 1.45
2236 1.55
2238 1.47
2240 1.56
2242 1.48
2244 1.57
2246 1.49
2248 1.58
2250 1.5
2252 1.57
2254 1.49
2256 1.56
2258 1.47
2260 1.54
2262 1.46
2264 1.52
2266 1.44
2268 1.5
2270 1.43
2272 1.48
2275 1.41
2278 1.45
2281 1.39
2284 1.42
2288 1.37
2292 1.39
2296 1.34
2300 1.35
2305 1.31
2310 1.3
2315 1.27
2320 1.26
2325 1.22
2330 1.21
2335 1.17
2340 1.17
2345 1.13
2350 1.13
2355 1.14
2358 1.09
2362 1.1
2366 1.06
2370 1.07
2375 1.02
2380 1.0
2385 0.97
2388 0.9
2390 0.75
2392 0.58
2394 0.34
2396 0.6
2398 0.7
2400 0.52
2402 0.65
2404 0.55
2406 0.62
2408 0.48
2410 0.58
2412 0.5
2414 0.56
2416 0.44
2418 0.54
2420 0.46
2422 0.52
2425 0.42
2428 0.5
2431 0.41
2434 0.48
2437 0.39
2440 0.6
2442 0.36
2445 0.48
2448 0.37
2451 0.45
2454 0.35
2457 0.44
2460 0.33
2463 0.42
2466 0.33
2470 0.4
2474 0.32
2478 0.39
2482 0.31
2486 0.37
2490 0.3
2495 0.36
2500 0.29
2505 0.35
2510 0.28
2515 0.33
2520 0.27
2525 0.31
2530 0.26
2535 0.3
2540 0.25
2545 0.29
2550 0.24
2555 0.28
2560 0.23
2565 0.27
2570 0.22
2575 0.26
2580 0.21
2585 0.25
2590 0.2
2595 0.24
2600 0.2
2605 0.23
2610 0.19
2615 0.23
2620 0.19
2624 0.36
2628 0.19
2632 0.22
2636 0.18
2640 0.22
2644 0.33
2648 0.18
2652 0.21
2656 0.17
2660 0.2
2664 0.17
2668 0.02
2672 0.19
2676 0.16
2680 0.19
2690 0.15
2700 0.18
2710 0.14
2720 0.17
2730 0.13
2740 0.15
2750 0.12
2760 0.14
2770 0.11
2780 0.13
2790 0.1
2800 0.12
2810 0.09
2820 0.11
2830 0.08
2840 0.1
2850 0.07
2860 0.09
2870 0.07
2880 0.08
2890 0.06
2900 0.08
2910 0.06
2920 0.07
2930 0.05
2940 0.07
2950 0.05
2960 0.06
2970 0.04
2980 0.06
2990 0.04
3000 0.06
3010 0.04
3020 0.07
};
\addlegendentry{... cloudy}
\draw[spineblue, line width=0.6pt] (rel axis cs:1,0) -- (rel axis cs:1,1);
\end{axis}
\end{tikzpicture}
\end{document}
